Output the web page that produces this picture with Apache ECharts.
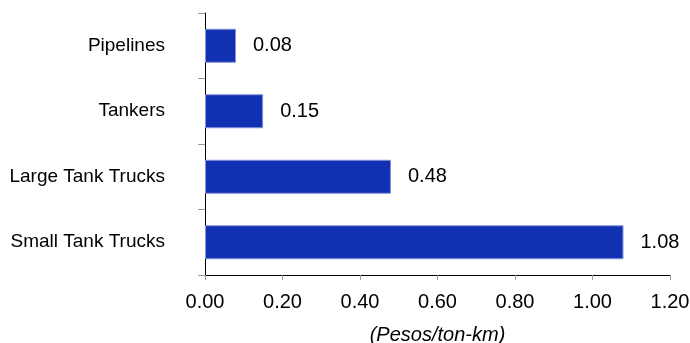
<!DOCTYPE html>
<html>
<head>
<meta charset="utf-8">
<script src="https://cdn.jsdelivr.net/npm/echarts@6/dist/echarts.min.js"></script>
<style>
  html, body { margin: 0; padding: 0; background: #ffffff; }
  #chart { width: 690px; height: 343px; }
</style>
</head>
<body>
<div id="chart"></div>
<script>
// Transport cost by mode, top to bottom as shown
const categories = ['Pipelines', 'Tankers', 'Large Tank Trucks', 'Small Tank Trucks'];
const costs = [0.08, 0.15, 0.48, 1.08];
const axisUnit = '(Pesos/ton-km)';

const font = '"Liberation Sans", Arial, sans-serif';

const chart = echarts.init(document.getElementById('chart'));
chart.setOption({
  animation: false,
  backgroundColor: '#ffffff',
  grid: {
    left: 205, right: 20, top: 13, bottom: 68,
    containLabel: false,
    outerBoundsMode: 'none'
  },
  xAxis: {
    type: 'value',
    min: 0,
    max: 1.2,
    interval: 0.2,
    name: axisUnit,
    nameLocation: 'middle',
    nameGap: 50,
    nameTextStyle: { fontFamily: font, fontSize: 20, fontStyle: 'italic', color: '#000' },
    axisLine: { show: true, lineStyle: { color: '#000', width: 1 } },
    axisTick: { show: true, length: 5, lineStyle: { color: '#999' } },
    axisLabel: {
      margin: 17,
      fontFamily: font, fontSize: 20, color: '#000',
      formatter: v => v.toFixed(2)
    },
    splitLine: { show: false }
  },
  yAxis: {
    type: 'category',
    data: categories,
    inverse: true,
    axisLine: { show: true, lineStyle: { color: '#000', width: 1 } },
    axisTick: { show: true, length: 7, lineStyle: { color: '#999' } },
    axisLabel: { margin: 40, fontFamily: font, fontSize: 19, color: '#000' }
  },
  series: [{
    type: 'bar',
    data: costs,
    barWidth: 34,
    itemStyle: { color: '#1230b2', borderColor: '#8393d8', borderWidth: 1 },
    label: {
      show: true,
      position: 'right',
      distance: 17,
      fontFamily: font,
      fontSize: 20,
      color: '#000',
      formatter: p => p.value.toFixed(2)
    }
  }]
});
</script>
</body>
</html>
